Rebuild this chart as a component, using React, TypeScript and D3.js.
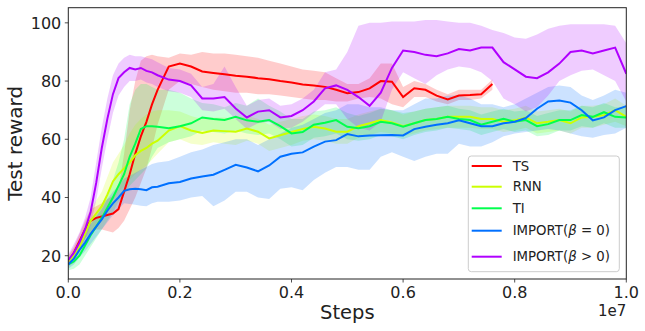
import React from "react";
import { scaleLinear, line, area } from "d3";

// steps in units of 1e7
const steps = [0, 0.01, 0.02, 0.03, 0.04, 0.05, 0.06, 0.07, 0.08, 0.09, 0.1, 0.11, 0.12, 0.13, 0.14, 0.15, 0.16,
  0.18, 0.2, 0.22, 0.24, 0.26, 0.28, 0.3, 0.32, 0.34, 0.36, 0.38, 0.4, 0.42, 0.44, 0.46, 0.48, 0.5, 0.52, 0.54, 0.56,
  0.58, 0.6, 0.62, 0.64, 0.66, 0.68, 0.7, 0.72, 0.74, 0.76, 0.78, 0.8, 0.82, 0.84, 0.86, 0.88, 0.9, 0.92, 0.94, 0.96,
  0.98, 1.0];

const tsMean = [18, 21, 25, 29, 32, 33, 33.5, 34, 34.5, 36, 42, 48, 55, 61, 66, 72, 77,
  85, 86, 85, 83.3, 82.8, 82.3, 81.8, 81.5, 81, 80.6, 80, 79.5, 78.8, 78.5, 78, 77, 75.8, 76.2, 77.5, 80, 79.8, 74.5,
  77.5, 77, 75, 73.7, 75, 75.2, 75.5, 79];
const tsLow = [16, 19, 22.5, 26, 28, 29, 29, 28.5, 28, 29.5, 32, 36, 40, 45, 50, 57, 65,
  77, 80, 79, 78, 77, 76.5, 76, 76, 75.5, 75.5, 75, 74.5, 74, 73.5, 73.5, 73, 73, 74, 74.5, 74, 72, 71, 74.5, 74.5, 73,
  72, 73.5, 73.5, 74, 77];
const tsHigh = [20, 23, 27.5, 32, 36, 37, 38, 39.5, 40.5, 43, 55, 70, 80, 87, 88.5, 89, 88.5,
  88, 89.5, 89, 90, 89.5, 89.5, 89, 88.5, 88, 87, 86, 85, 84, 83.5, 83, 81, 79, 79, 81, 86, 86, 78, 80, 79, 77, 75.5,
  77, 77, 77, 80.5];

const rnnMean = [18, 20, 23, 27.5, 32, 34.5, 37, 41, 45.5, 48, 50, 52, 54.5, 56, 57, 58.5, 59.5,
  63, 64.5, 63, 62.2, 63, 62.8, 62.6, 63.7, 62.6, 60.3, 61.4, 62.5, 63.5, 64.3, 63.7, 62.6, 62.6, 64.5, 65.5, 66.6,
  65.8, 64.5, 65.5, 66.6, 67, 67.7, 67.7, 67.7, 67, 67, 66, 66.5, 67.5, 65.5, 66, 66.6, 65.5, 67.5, 67.7, 68.3, 70, 67.7];
const rnnLow = [16, 17.5, 20, 24, 28, 30, 32, 35, 39, 42, 44, 46, 48, 49.5, 51, 53, 55,
  59, 60, 58.5, 58, 59, 58.5, 58, 59.5, 58.5, 56, 57, 58, 59.5, 60, 59.5, 58.5, 58.5, 60.5, 61.5, 62.5, 62, 61, 62, 63,
  63.5, 64, 64, 64, 63.5, 63.5, 62.5, 63, 64, 62, 62.5, 63, 62, 64, 64, 65, 66, 64.5];
const rnnHigh = [20, 22.5, 26, 31, 36, 39, 42, 47, 52, 55, 58, 62, 65, 67, 68.5, 69.5, 70,
  70, 69.5, 68, 67, 67.5, 67.5, 67, 68, 67, 65, 66, 67, 68, 68.5, 68, 67, 67, 68.5, 69.5, 70.5, 70, 68.5, 69.5, 70.5,
  71, 71.5, 71.5, 71.5, 71, 71, 70, 70.5, 71.5, 69.5, 70, 70.5, 69.5, 71.5, 71.5, 72, 74, 71.5];

const tiMean = [17, 18, 20, 23.5, 27, 30, 33, 36.5, 40, 44, 48, 54, 58.5, 63.5, 64.5, 64.5, 64.3,
  63.8, 64.5, 65.5, 67.5, 67, 66.6, 67.7, 66.5, 66, 66.6, 64.5, 62, 62.5, 65, 65.7, 66.6, 64.3, 63.8, 64.5, 66, 65.5,
  64.3, 65.5, 66.6, 67, 67.7, 67, 66.6, 65, 66, 67, 66, 66.6, 64.5, 65.2, 66.6, 66.6, 68.3, 67.7, 69.3, 67.7, 67.5];
const tiLow = [15, 15.5, 17, 20, 23, 26, 29, 32, 35, 38.5, 41, 44, 46, 48, 50, 54, 57,
  59, 60, 61, 63, 62.5, 62, 63, 62, 61.5, 62, 60, 57.5, 58, 60.5, 61, 62, 60, 59.5, 60, 61.5, 61, 60, 61.5, 62.5, 63,
  64, 63.5, 63, 61.5, 62.5, 63.5, 62.5, 63, 61, 61.5, 63, 63, 64.5, 64, 65.5, 64, 64];
const tiHigh = [19, 20.5, 23, 27, 31, 34, 37.5, 41.5, 46, 52, 60, 72, 77, 79, 79, 78, 77,
  77, 76, 74, 72.5, 72, 71, 72.5, 71.5, 74, 71.5, 69.5, 67, 67, 69.5, 70, 71, 69, 68, 69, 70.5, 70, 69, 69.5, 70.5, 71,
  71.5, 70.5, 70, 68.5, 69.5, 70.5, 69.5, 70, 68, 69, 70, 70, 71.5, 71, 72.5, 71, 71];

const imp0Mean = [17, 19, 22, 24.5, 27.5, 30, 32.5, 35.5, 38, 40, 42.3, 42.8, 43, 42.8, 42.5, 43.5, 43.7,
  44.9, 45.3, 46.5, 47.2, 47.8, 49.5, 51.2, 50.3, 49, 51, 54, 55, 55.5, 57.5, 59.2, 59.7, 61.8, 61, 61.3, 61.4, 61.5,
  61.3, 63.5, 64.3, 65, 65.5, 66.5, 65.5, 64.5, 64.5, 65.5, 66, 67.3, 70.5, 73, 73.3, 72.6, 70, 66.5, 67.5, 70, 71.4];
const imp0Low = [15.5, 17, 19.5, 21.5, 24, 26.5, 29, 31.5, 34, 36, 38, 37.8, 37.5, 37.2, 37, 38, 38.5,
  38.5, 39, 40, 40.5, 37, 39, 42, 42, 40, 39.5, 43, 43.5, 42.5, 46, 48.5, 50.5, 50.5, 49.5, 49.5, 54, 55.5, 54, 52.5,
  54, 55, 55, 58.5, 57.5, 57.5, 59, 61, 62, 62.5, 63, 63.5, 63, 62, 61, 60.5, 61.5, 62, 64];
const imp0High = [18.5, 21, 24.5, 27.5, 31, 33.5, 36, 39.5, 42, 44, 46.5, 47.5, 48.5, 49.5, 50.5, 51.5, 52,
  52.5, 54, 55.5, 56.5, 58, 59, 60, 60, 58, 60, 62, 64, 65, 67, 69, 70, 72, 72, 71, 71, 70, 70, 72, 74, 74, 75, 75, 74,
  72, 72, 71, 72, 74, 76, 78, 78.5, 78, 75, 73.5, 75, 77, 76];

const imp1Mean = [18.5, 21, 24.5, 29, 35, 45, 57, 67, 75.5, 81, 83, 84.5, 84, 84.5, 83.5, 83, 82,
  80.5, 80, 78.5, 74, 74, 74.5, 70.6, 67.5, 69.5, 70, 67.5, 68, 70, 73, 77.5, 78.5, 77, 74.5, 71.5, 76, 84.5, 90.5, 90,
  89, 88.5, 89.5, 91, 90.5, 91.5, 91.5, 86.5, 84, 81.5, 81, 83, 86, 90, 90.5, 89.5, 90.5, 91.5, 82.5];
const imp1Low = [16.5, 18.5, 21.5, 25.5, 30.5, 39, 50, 60, 69, 75, 78, 80, 80, 80.5, 79.5, 79, 78,
  76.5, 76, 74.5, 70, 69.5, 70.5, 67, 63.5, 65.5, 66, 63.5, 64, 66, 69, 72, 72, 67, 64, 63, 66, 77, 83, 81, 79, 82, 84,
  85, 84.5, 83, 80, 74, 72, 69.5, 71, 75, 80, 82, 83.5, 84, 82, 80, 73];
const imp1High = [20.5, 24, 28, 33, 40, 52, 64, 74, 82, 86, 88, 89, 88.5, 88.5, 88, 87.5, 86.5,
  84.5, 84, 82.5, 78, 79, 85, 78, 71.5, 73.5, 74, 71.5, 72, 74, 77, 83, 84, 90, 99, 100, 100, 100.5, 100.5, 100.5, 101,
  101, 100.5, 100, 100, 99, 97.5, 96.5, 95, 94.5, 96, 98, 99, 99.5, 99.5, 99.5, 99.5, 99, 93];

const names = ["TS", "RNN", "TI", "IMPORT0", "IMPORT1"];
const colors = ["#ff0000", "#ccff00", "#00ff4d", "#0070ff", "#b000ff"];
const means = [tsMean, rnnMean, tiMean, imp0Mean, imp1Mean];
const lows = [tsLow, rnnLow, tiLow, imp0Low, imp1Low];
const highs = [tsHigh, rnnHigh, tiHigh, imp0High, imp1High];

const xTicks = [0, 0.2, 0.4, 0.6, 0.8, 1.0];
const yTicks = [20, 40, 60, 80, 100];

const font = "DejaVu Sans";

export default function App() {
  const width = 645;
  const height = 331;
  const left = 68.3, right = 626.3, top = 7.7, bottom = 279;

  const x = scaleLinear().domain([0, 1]).range([left, right]);
  const y = scaleLinear().domain([12, 105.2]).range([bottom, top]);

  const rows = names.map((name, i) =>
    means[i].map((m, j) => ({ s: steps[j], m, lo: lows[i][j], hi: highs[i][j] }))
  );

  const band = area<any>().x(d => x(d.s)).y0(d => y(d.lo)).y1(d => y(d.hi));
  const mean = line<any>().x(d => x(d.s)).y(d => y(d.m));

  const legendY = [166, 186.7, 208.3, 230.7, 256.7];
  const legendText = [
    <>TS</>,
    <>RNN</>,
    <>TI</>,
    <>IMPORT(<tspan fontStyle="italic">β</tspan> = 0)</>,
    <>IMPORT(<tspan fontStyle="italic">β</tspan> &gt; 0)</>,
  ];

  return (
    <svg width={width} height={height} style={{ position: "absolute", left: 0, top: 0 }} fontFamily={font}>
      <rect width={width} height={height} fill="white" />
      <defs>
        <clipPath id="plot">
          <rect x={left} y={top} width={right - left} height={bottom - top} />
        </clipPath>
      </defs>
      <g clipPath="url(#plot)">
        {rows.map((r, i) => (
          <path key={"b" + i} d={band(r) || ""} fill={colors[i]} fillOpacity={0.2} stroke="none" />
        ))}
        {rows.map((r, i) => (
          <path key={"l" + i} d={mean(r) || ""} fill="none" stroke={colors[i]} strokeWidth={2} />
        ))}
      </g>

      {/* axes frame */}
      <rect x={left} y={top} width={right - left} height={bottom - top} fill="none" stroke="#222" strokeWidth={1} />

      {xTicks.map(t => (
        <g key={"x" + t}>
          <line x1={x(t)} x2={x(t)} y1={bottom} y2={bottom + 3.5} stroke="#222" strokeWidth={0.8} />
          <text x={x(t)} y={298.3} fontSize={16} textAnchor="middle" fill="#222">{t.toFixed(1)}</text>
        </g>
      ))}
      {yTicks.map(t => (
        <g key={"y" + t}>
          <line x1={left - 3.5} x2={left} y1={y(t)} y2={y(t)} stroke="#222" strokeWidth={0.8} />
          <text x={61.3} y={y(t) + 5.8} fontSize={16} textAnchor="end" fill="#222">{t}</text>
        </g>
      ))}

      <text x={(left + right) / 2} y={319.2} fontSize={19.5} textAnchor="middle" fill="#222">Steps</text>
      <text x={right} y={316} fontSize={15} textAnchor="end" fill="#222">1e7</text>
      <text transform={`translate(21.7, ${(top + bottom) / 2}) rotate(-90)`} fontSize={20} textAnchor="middle" fill="#222">
        Test reward
      </text>

      {/* legend */}
      <rect x={468.3} y={156} width={151} height={115.7} rx={3} fill="white" fillOpacity={0.8} stroke="#cccccc" strokeWidth={1} />
      {names.map((n, i) => (
        <g key={"lg" + n}>
          <line x1={471.7} x2={501.7} y1={legendY[i]} y2={legendY[i]} stroke={colors[i]} strokeWidth={2} />
          <text x={512.7} y={legendY[i] + 4.7} fontSize={13.3} fill="#222">{legendText[i]}</text>
        </g>
      ))}
    </svg>
  );
}
